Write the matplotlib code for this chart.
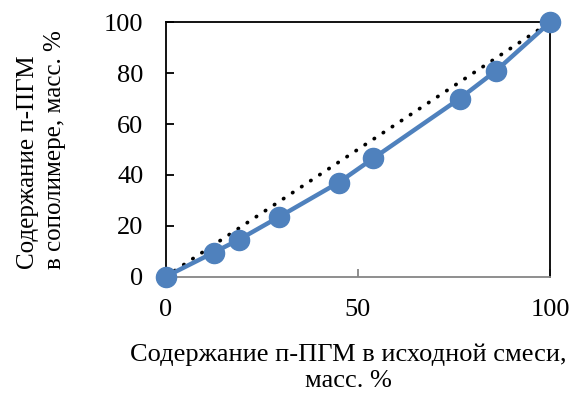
import matplotlib.pyplot as plt

plt.rcParams['font.family'] = ['Liberation Serif', 'DejaVu Serif']

# содержание п-ПГМ в исходной смеси и в сополимере, масс. %
feed = [0, 12.5, 19, 29.5, 45, 54, 76.5, 86, 100]
copolymer = [0, 9.5, 14.5, 23.5, 37, 46.5, 70, 81, 100]
ideal_x = [0, 100]
ideal_y = [0, 100]

fig = plt.figure(figsize=(5.75, 3.94), dpi=100)
ax = fig.add_axes([0.288, 0.2977, 0.6685, 0.6457])

ax.plot(ideal_x, ideal_y, color='black', linestyle=(0, (0.1, 2.8)),
        linewidth=2.7, dash_capstyle='round', zorder=2)
ax.plot(feed, copolymer, color='#4F81BD', linewidth=3.2, marker='o',
        markersize=14.5, clip_on=False, zorder=3)

ax.set_xlim(0, 100)
ax.set_ylim(0, 100)
ax.set_xticks([0, 50, 100])
ax.set_yticks([0, 20, 40, 60, 80, 100])

for side in ['left', 'right', 'top']:
    ax.spines[side].set_color('black')
    ax.spines[side].set_linewidth(1.3)
ax.spines['bottom'].set_color('#868686')
ax.spines['bottom'].set_linewidth(1.3)

ax.tick_params(axis='y', direction='in', length=6, width=1.3, colors='black',
               labelsize=19, pad=16)
ax.tick_params(axis='x', direction='in', length=6, width=1.3, color='#868686',
               labelcolor='black', labelsize=19, pad=16)

ax.set_xlabel('Содержание п-ПГМ в исходной смеси,\nмасс. %', fontsize=19,
              linespacing=1.25)
ax.xaxis.set_label_coords(0.475, -0.262)
ax.set_ylabel('Содержание п-ПГМ\nв сополимере, масс. %', fontsize=18,
              linespacing=1.25, multialignment='left')
ax.yaxis.set_label_coords(-0.26, 0.5)

fig.savefig('out.png', dpi=100)
